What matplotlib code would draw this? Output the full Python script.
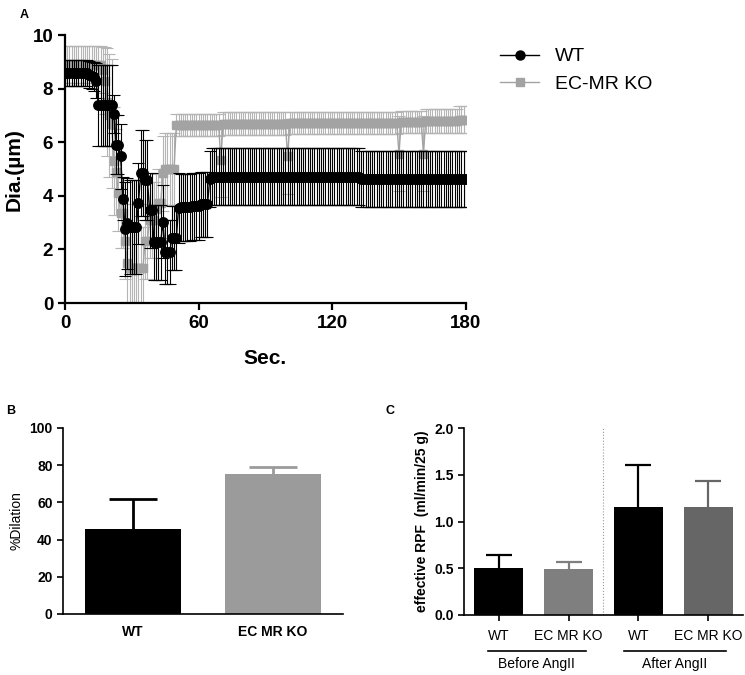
import numpy as np
import matplotlib.pyplot as plt
from matplotlib.lines import Line2D

plt.rcParams['font.family'] = ['Liberation Sans', 'DejaVu Sans']

# ---- Panel A: vessel diameter over time (1 sample / s), run-length readings
wt_level = [8.58, 8.52, 8.48, 8.45, 8.3, 7.38, 7.06, 5.9, 5.47, 3.9, 2.76, 2.98, 2.85, 3.72,
            4.84, 4.6, 3.47, 2.27, 3.04, 1.9, 2.42, 3.54, 3.58, 3.62, 3.68, 4.62, 4.72, 4.62]
wt_count = [11, 1, 1, 1, 1, 7, 1, 2, 1, 1, 1, 1, 4, 1, 2, 2, 2, 4, 1, 3, 3, 1, 5, 4, 4, 1, 67, 48]
wt_sem = [0.48, 0.5, 0.5, 0.55, 0.65, 1.5, 0.72, 1.1, 1.2, 0.8, 1.75, 1.7, 1.75, 1.5,
          1.6, 1.5, 1.4, 1.4, 1.35, 1.2, 1.2, 1.3, 1.25, 1.25, 1.22, 1.05, 1.06, 1.04]

ko_level = [8.9, 8.7, 8.3, 7.5, 7.0, 6.7, 5.3, 4.9, 4.1, 3.35, 2.3, 1.5, 1.3, 2.3, 3.1, 3.5,
            3.72, 4.84, 5.0, 6.65, 5.35, 6.7, 5.47, 6.72, 5.57, 6.75, 5.57, 6.8, 6.85]
ko_count = [17, 1, 1, 1, 1, 1, 1, 1, 1, 2, 1, 1, 7, 2, 3, 1, 2, 1, 5, 20, 1, 29, 1, 49, 1, 10, 1, 15, 4]
ko_sem = [0.7, 0.85, 1.25, 2.0, 2.3, 2.4, 2.0, 1.6, 1.4, 1.3, 1.4, 1.5, 1.55, 1.4, 1.4, 1.3,
          1.3, 1.4, 1.35, 0.42, 1.4, 0.42, 1.4, 0.42, 1.4, 0.42, 1.4, 0.45, 0.5]

# ---- Panel B: % dilation
b_groups = ["WT", "EC MR KO"]
b_mean = [45.9, 75.4]
b_err = [15.9, 3.6]

# ---- Panel C: effective RPF
c_labels = ["WT", "EC MR KO", "WT", "EC MR KO"]
c_mean = [0.50, 0.493, 1.16, 1.16]
c_err = [0.143, 0.075, 0.447, 0.275]
c_groups = ["Before AngII", "After AngII"]

wt_y = np.repeat(wt_level, wt_count)
wt_e = np.repeat(wt_sem, wt_count)
ko_y = np.repeat(ko_level, ko_count)
ko_e = np.repeat(ko_sem, ko_count)
t = np.arange(len(wt_y))

fig = plt.figure(figsize=(7.45, 6.75), dpi=100)

# ================= A
axA = fig.add_axes([0.0872, 0.551, 0.538, 0.397])
axA.errorbar(t, ko_y, yerr=ko_e, color="#a3a3a3", ecolor="#b5b5b5", marker="s",
             markersize=6, lw=1, elinewidth=0.8, capsize=4, capthick=0.8, zorder=2)
axA.errorbar(t, wt_y, yerr=wt_e, color="black", ecolor="black", marker="o",
             markersize=6.8, lw=1, elinewidth=0.8, capsize=4, capthick=0.8, zorder=3)
axA.set_xlim(0, 180)
axA.set_ylim(0, 10)
axA.set_xticks([0, 60, 120, 180])
axA.set_yticks([0, 2, 4, 6, 8, 10])
for s in ["top", "right"]:
    axA.spines[s].set_visible(False)
for s in ["left", "bottom"]:
    axA.spines[s].set_linewidth(1.6)
axA.tick_params(width=1.6, length=5, labelsize=13.5)
for lab in axA.get_xticklabels() + axA.get_yticklabels():
    lab.set_fontweight("bold")
axA.set_ylabel("Dia.(µm)", fontsize=15, fontweight="bold", labelpad=6)
axA.set_xlabel("Sec.", fontsize=15, fontweight="bold", labelpad=12)

handles = [Line2D([], [], color="black", marker="o", markersize=6.5, lw=1),
           Line2D([], [], color="#a3a3a3", marker="s", markersize=6, lw=1)]
fig.legend(handles, ["WT", "EC-MR KO"], loc="upper left", bbox_to_anchor=(0.648, 0.955),
           frameon=False, fontsize=14, handlelength=2.0, labelspacing=0.5)

fig.text(0.033, 0.978, "A", fontsize=9, fontweight="bold", ha="center", va="center")

# ================= B
axB = fig.add_axes([0.0846, 0.0904, 0.376, 0.2756])
bx = np.arange(len(b_groups))
b_colors = ["black", "#9b9b9b"]
axB.bar(bx, b_mean, width=0.68, color=b_colors, zorder=2)
for i in range(len(bx)):
    eb = axB.errorbar(bx[i], b_mean[i], yerr=[[0], [b_err[i]]], color=b_colors[i],
                      elinewidth=2.0, capsize=17.5, capthick=2.0, zorder=1)
    eb[1][0].set_visible(False)  # no lower cap
axB.set_xlim(-0.5, 1.5)
axB.set_ylim(0, 100)
axB.set_yticks([0, 20, 40, 60, 80, 100])
axB.set_xticks(bx)
axB.set_xticklabels(b_groups)
for s in ["top", "right"]:
    axB.spines[s].set_visible(False)
for s in ["left", "bottom"]:
    axB.spines[s].set_linewidth(1.2)
axB.tick_params(axis="y", width=1.2, length=4, labelsize=10)
axB.tick_params(axis="x", length=0, labelsize=10, pad=8)
for lab in axB.get_xticklabels() + axB.get_yticklabels():
    lab.set_fontweight("bold")
axB.set_ylabel("%Dilation", fontsize=10)
fig.text(0.015, 1 - 411 / 675, "B", fontsize=9, fontweight="bold", ha="center", va="center")

# ================= C
axC = fig.add_axes([0.6228, 0.0889, 0.3745, 0.2766])
cx = np.arange(len(c_labels))
c_colors = ["black", "#7f7f7f", "black", "#666666"]
axC.bar(cx, c_mean, width=0.7, color=c_colors, zorder=2)
for i in range(len(cx)):
    eb = axC.errorbar(cx[i], c_mean[i], yerr=[[0], [c_err[i]]], color=c_colors[i],
                      elinewidth=1.6, capsize=9.2, capthick=1.6, zorder=1)
    eb[1][0].set_visible(False)
axC.axvline(1.5, color="#999999", lw=0.8, ls=":", zorder=0)
axC.set_xlim(-0.5, 3.5)
axC.set_ylim(0, 2.0)
axC.set_yticks([0, 0.5, 1.0, 1.5, 2.0])
axC.set_yticklabels(["0.0", "0.5", "1.0", "1.5", "2.0"])
axC.set_xticks(cx)
axC.set_xticklabels(c_labels)
for s in ["top", "right"]:
    axC.spines[s].set_visible(False)
for s in ["left", "bottom"]:
    axC.spines[s].set_linewidth(1.2)
axC.tick_params(axis="y", width=1.2, length=4, labelsize=10)
axC.tick_params(axis="x", width=1.2, length=4, labelsize=10, pad=6)
for lab in axC.get_yticklabels():
    lab.set_fontweight("bold")
axC.set_ylabel("effective RPF  (ml/min/25 g)", fontsize=10, fontweight="bold")

trans = axC.get_xaxis_transform()
for (x0, x1), name in zip([(-0.16, 1.25), (1.79, 3.25)], c_groups):
    axC.plot([x0, x1], [-0.191, -0.191], color="black", lw=1.2, transform=trans, clip_on=False)
    axC.text((x0 + x1) / 2, -0.265, name, transform=trans, ha="center", va="center", fontsize=10)
fig.text(390 / 745, 1 - 411 / 675, "C", fontsize=9, fontweight="bold", ha="center", va="center")

fig.savefig("out.png", dpi=100)
